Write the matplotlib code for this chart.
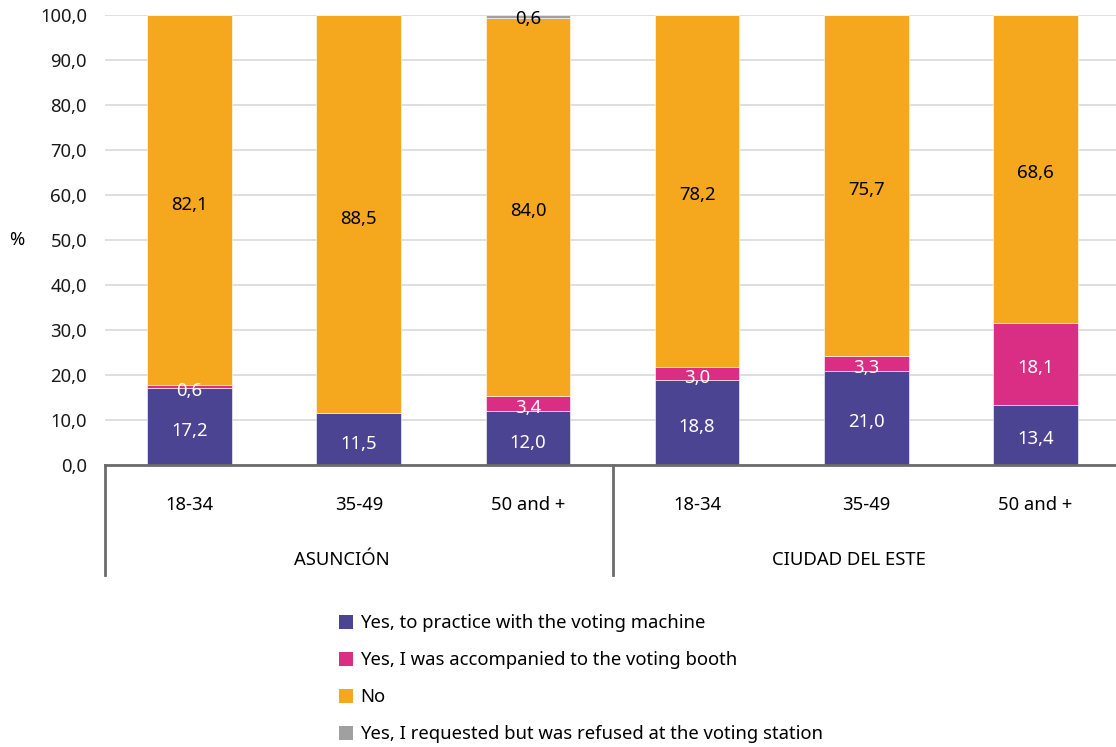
import matplotlib
matplotlib.use("Agg")
import matplotlib.pyplot as plt
from matplotlib.patches import Rectangle
from matplotlib.lines import Line2D
import numpy as np

plt.rcParams['font.family'] = ['Noto Sans', 'DejaVu Sans']

ages = ["18-34", "35-49", "50 and +", "18-34", "35-49", "50 and +"]
cities = ["ASUNCIÓN", "CIUDAD DEL ESTE"]
series_names = ["Yes, to practice with the voting machine",
                "Yes, I was accompanied to the voting booth",
                "No",
                "Yes, I requested but was refused at the voting station"]
practice = [17.2, 11.5, 12.0, 18.8, 21.0, 13.4]
accompanied = [0.6, 0.0, 3.4, 3.0, 3.3, 18.1]
no_vals = [82.1, 88.5, 84.0, 78.2, 75.7, 68.6]
refused = [0.0, 0.0, 0.6, 0.0, 0.0, 0.0]
colors = ["#4B4492", "#D92E83", "#F5A71E", "#A0A0A0"]
label_colors = ["white", "white", "black", "black"]

FS = 13.3
W, H = 1116, 747
fig = plt.figure(figsize=(W / 100, H / 100), dpi=100)
ax = fig.add_axes([105 / W, 1 - 465 / H, (1120 - 105) / W, (465 - 15) / H])

x = np.arange(len(ages))
bottom = np.zeros(len(ages))
for vals, c, lc in zip([practice, accompanied, no_vals, refused], colors, label_colors):
    vals = np.array(vals)
    ax.bar(x, vals, width=0.5, bottom=bottom, color=c, edgecolor="white", linewidth=0.4, zorder=2)
    for xi, v, b in zip(x, vals, bottom):
        if v > 0:
            yc = b + v / 2 - 1.0
            if c == colors[3]:
                yc = b + v / 2 - 0.5
            ax.text(xi, yc, f"{v:.1f}".replace(".", ","), ha="center", va="center",
                    color=lc, fontsize=FS, zorder=3)
    bottom = bottom + vals

ax.set_xlim(-0.5, 5.5)
ax.set_ylim(0, 100)
ax.set_yticks(np.arange(0, 101, 10))
ax.set_yticklabels([f"{v:.1f}".replace(".", ",") for v in np.arange(0, 101, 10)], fontsize=FS)
ax.tick_params(axis="y", length=0, pad=13, colors="#1a1a1a")
ax.set_xticks([])
ax.yaxis.grid(True, color="#D9D9D9", linewidth=1.2, zorder=0)
ax.set_axisbelow(True)
for s in ["top", "right", "left"]:
    ax.spines[s].set_visible(False)
ax.spines["bottom"].set_color("#6b6b6b")
ax.spines["bottom"].set_linewidth(2)
ax.spines["bottom"].set_zorder(4)

# multi-level axis labels
trans = ax.get_xaxis_transform()
for xi, a in zip(x, ages):
    ax.text(xi, -(505 - 465) / 450, a, ha="center", va="center", fontsize=FS, transform=trans)
for gi, cname in enumerate(cities):
    ax.text(gi * 3 + 0.9, -(560 - 465) / 450, cname, ha="center", va="center", fontsize=FS, transform=trans)
for xb in [-0.5, 2.5]:
    ax.add_line(Line2D([xb, xb], [0, -(575 - 465) / 450], transform=trans, color="#6b6b6b",
                       linewidth=2, clip_on=False))

fig.text(17 / W, 1 - 240 / H, "%", ha="center", va="center", fontsize=FS)

# legend
rows_y = [622, 659, 696, 733]
for ry, c, name in zip(rows_y, colors, series_names):
    fig.patches.append(Rectangle((339 / W, 1 - (ry + 7) / H), 14 / W, 14 / H, transform=fig.transFigure,
                                 facecolor=c, edgecolor="none"))
    fig.text(360 / W, 1 - (ry + 1) / H, name, ha="left", va="center", fontsize=FS)

fig.savefig("out.png", dpi=100)
